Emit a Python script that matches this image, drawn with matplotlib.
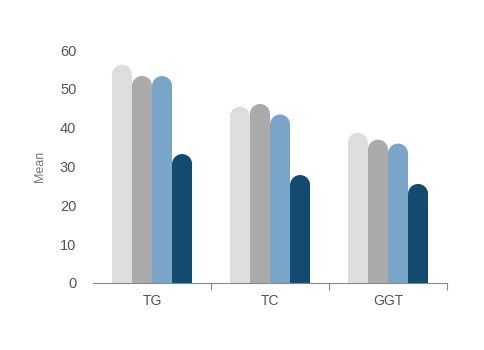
import numpy as np
import matplotlib
matplotlib.use('Agg')
from matplotlib import pyplot as plt
from matplotlib.patches import Ellipse

plt.rcParams['font.family'] = ['Liberation Sans', 'DejaVu Sans']

categories = ['TG', 'TC', 'GGT']
series_a = [56.2, 45.4, 38.7]
series_b = [53.3, 46.1, 36.9]
series_c = [53.3, 43.4, 35.9]
series_d = [33.2, 27.8, 25.5]
colors = ['#dddddd', '#aaaaaa', '#79a6c8', '#124a70']

series = [series_a, series_b, series_c, series_d]

fig = plt.figure(figsize=(4.85, 3.5), dpi=100)
ax = fig.add_axes([93 / 485, 67 / 350, 354 / 485, 233 / 350])
ax.set_xlim(-0.5, len(categories) - 0.5)
ax.set_ylim(0, 60)

bar_w = 0.17
x = np.arange(len(categories))

# radius of the rounded cap in data units (half bar width, in pixel terms)
px_per_x = ax.get_window_extent().width / 3.0
px_per_y = ax.get_window_extent().height / 60.0
cap_h = (bar_w * px_per_x / 2) / px_per_y

for i, vals in enumerate(series):
    xs = x + (i - 1.5) * bar_w
    for xi, v in zip(xs, vals):
        ax.bar(xi, v - cap_h, width=bar_w, color=colors[i], linewidth=0)
        ax.add_patch(Ellipse((xi, v - cap_h), bar_w, 2 * cap_h,
                             facecolor=colors[i], linewidth=0))

for s in ['top', 'right', 'left']:
    ax.spines[s].set_visible(False)
ax.spines['bottom'].set_color('#888888')
ax.spines['bottom'].set_linewidth(0.8)

ax.set_xticks(x)
ax.set_xticklabels(categories)
ax.set_xticks([0.5, 1.5, 2.5], minor=True)
ax.tick_params(axis='x', which='major', length=0, pad=8, labelsize=10, labelcolor='#555555')
ax.tick_params(axis='x', which='minor', length=5, width=0.8, color='#888888')
ax.set_yticks(np.arange(0, 61, 10))
ax.tick_params(axis='y', length=0, pad=12, labelsize=10.5, labelcolor='#555555')
ax.set_ylabel('Mean', fontsize=9, color='#777777')
ax.yaxis.set_label_coords(-47 / 354, 0.5)

fig.savefig('out.png', dpi=100)
